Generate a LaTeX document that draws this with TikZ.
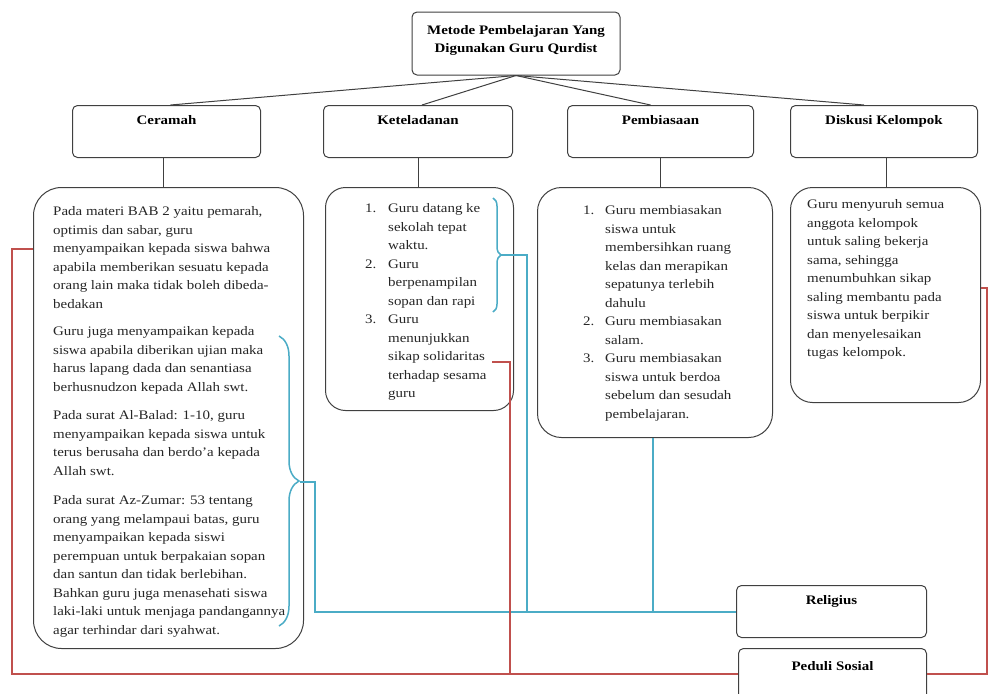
\documentclass[tikz,border=0pt]{standalone}
\usepackage{fontspec}
\setmainfont[FakeStretch=1.15]{Liberation Serif}
\usetikzlibrary{decorations.pathreplacing}
\definecolor{boxline}{HTML}{404040}
\definecolor{relblue}{HTML}{4BACC6}
\definecolor{socred}{HTML}{C0504D}
\begin{document}
\begin{tikzpicture}[x=1pt,y=-1pt,
  headbox/.style={draw=boxline, line width=1pt, rounded corners=5pt, fill=white,
    font=\fontsize{13}{18.5}\selectfont\bfseries, anchor=north west, inner xsep=0pt,
    inner ysep=9pt, text height=10pt, text depth=24pt, align=center},
  contentbox/.style={draw=boxline, line width=1pt, fill=white, anchor=north west, inner sep=0pt},
  bodytext/.style={font=\fontsize{13}{18.5}\selectfont, anchor=north west, inner sep=0pt, align=left, text=black!85},
  treeline/.style={draw=boxline, line width=1pt},
  blueline/.style={draw=relblue, line width=1.5pt},
  redline/.style={draw=socred, line width=1.5pt},
  bluebrace/.style={draw=relblue, line width=1.5pt, decorate, decoration={brace, amplitude=#1}}
]
\useasboundingbox (0,0) rectangle (989,694);

% ---- coordinates for the coloured connectors
\coordinate (cbtop) at (279,336);
\coordinate (cbbot) at (279,626);
\coordinate (cbtip) at (300,482);
\coordinate (cbturn) at (315,482);
\coordinate (cbdown) at (315,612);
\coordinate (kbtop) at (493,198);
\coordinate (kbbot) at (493,312);
\coordinate (kbtip) at (501,255);
\coordinate (kbturn) at (527,255);
\coordinate (kbdown) at (527,612);
\coordinate (krstart) at (492,362);
\coordinate (krturn) at (510,362);
\coordinate (krdown) at (510,674);
\coordinate (lftop) at (12,249);
\coordinate (lfbot) at (12,674);
\coordinate (rttop) at (987,288);
\coordinate (rtbot) at (987,674);
\coordinate (pbdown) at (653,612);

% ---- boxes
\node[draw=boxline, line width=1pt, rounded corners=5pt, fill=white, minimum width=208pt, minimum height=63pt,
  font=\fontsize{13}{18.5}\selectfont\bfseries, align=center, inner sep=0pt] (top) at (516,43.5)
  {Metode Pembelajaran Yang\\[-1pt]Digunakan Guru Qurdist\\[-9pt]};

\node[headbox, minimum width=188pt] (cer) at (72,105) {Ceramah};
\node[headbox, minimum width=189pt] (ket) at (323,105) {Keteladanan};
\node[headbox, minimum width=186pt] (pem) at (567,105) {Pembiasaan};
\node[headbox, minimum width=187pt] (dis) at (790,105) {Diskusi Kelompok};

\draw[treeline] (top.south) -- ([xshift=4pt]cer.north);
\draw[treeline] (top.south) -- ([xshift=4pt]ket.north);
\draw[treeline] (top.south) -- ([xshift=-10pt]pem.north);
\draw[treeline] (top.south) -- ([xshift=-20pt]dis.north);

\node[contentbox, minimum width=270pt, minimum height=461pt, rounded corners=28pt] (cerbox) at (33,187) {};
\node[contentbox, minimum width=188pt, minimum height=223pt, rounded corners=20pt] (ketbox) at (325,187) {};
\node[contentbox, minimum width=235pt, minimum height=250pt, rounded corners=24pt] (pembox) at (537,187) {};
\node[contentbox, minimum width=190pt, minimum height=215pt, rounded corners=22pt] (disbox) at (790,187) {};

\draw[treeline] ([xshift=-3pt]cer.south) -- ([xshift=-3pt]cer.south |- cerbox.north);
\draw[treeline] (ket.south) -- (ket.south |- ketbox.north);
\draw[treeline] (pem.south) -- (pem.south |- pembox.north);
\draw[treeline] ([xshift=2pt]dis.south) -- ([xshift=2pt]dis.south |- disbox.north);

% ---- texts in the Ceramah box
\node[bodytext] (cert1) at (53,206.5) {Pada materi BAB 2 yaitu pemarah,\\
optimis dan sabar, guru\\
menyampaikan kepada siswa bahwa\\
apabila memberikan sesuatu kepada\\
orang lain maka tidak boleh dibeda-\\
bedakan};
\node[bodytext] (cert2) at (53,326.5) {Guru juga menyampaikan kepada\\
siswa apabila diberikan ujian maka\\
harus lapang dada dan senantiasa\\
berhusnudzon kepada Allah swt.};
\node[bodytext] (cert3) at (53,410.5) {Pada surat Al-Balad: 1-10, guru\\
menyampaikan kepada siswa untuk\\
terus berusaha dan berdo'a kepada\\
Allah swt.};
\node[bodytext] (cert4) at (53,495.5) {Pada surat Az-Zumar: 53 tentang\\
orang yang melampaui batas, guru\\
menyampaikan kepada siswi\\
perempuan untuk berpakaian sopan\\
dan santun dan tidak berlebihan.\\
Bahkan guru juga menasehati siswa\\
laki-laki untuk menjaga pandangannya\\
agar terhindar dari syahwat.};

% ---- Keteladanan list
\node[bodytext] (kett) at (365,203.5) {\makebox[23pt][l]{1.}Guru datang ke\\
\hspace*{23pt}sekolah tepat\\
\hspace*{23pt}waktu.\\
\makebox[23pt][l]{2.}Guru\\
\hspace*{23pt}berpenampilan\\
\hspace*{23pt}sopan dan rapi\\
\makebox[23pt][l]{3.}Guru\\
\hspace*{23pt}menunjukkan\\
\hspace*{23pt}sikap solidaritas\\
\hspace*{23pt}terhadap sesama\\
\hspace*{23pt}guru};

% ---- Pembiasaan list
\node[bodytext] (pemt) at (583,205.5) {\makebox[22pt][l]{1.}Guru membiasakan\\
\hspace*{22pt}siswa untuk\\
\hspace*{22pt}membersihkan ruang\\
\hspace*{22pt}kelas dan merapikan\\
\hspace*{22pt}sepatunya terlebih\\
\hspace*{22pt}dahulu\\
\makebox[22pt][l]{2.}Guru membiasakan\\
\hspace*{22pt}salam.\\
\makebox[22pt][l]{3.}Guru membiasakan\\
\hspace*{22pt}siswa untuk berdoa\\
\hspace*{22pt}sebelum dan sesudah\\
\hspace*{22pt}pembelajaran.};

% ---- Diskusi text
\node[bodytext] (dist) at (807,199.5) {Guru menyuruh semua\\
anggota kelompok\\
untuk saling bekerja\\
sama, sehingga\\
menumbuhkan sikap\\
saling membantu pada\\
siswa untuk berpikir\\
dan menyelesaikan\\
tugas kelompok.};

% ---- bottom boxes
\node[headbox, minimum width=190pt, text height=10pt, text depth=24pt, inner ysep=9pt] (rel) at (736,585) {Religius};
\node[headbox, minimum width=188pt, text height=10pt, text depth=18pt, inner ysep=12pt] (ped) at (738,648) {Peduli Sosial};

% ---- coloured connectors
\draw[bluebrace=20pt] (cbtop) -- (cbbot);
\draw[blueline] (cbtip) -- (cbturn) -- (cbdown) -- (rel.west |- cbdown);
\draw[bluebrace=8pt] (kbtop) -- (kbbot);
\draw[blueline] (kbtip) -- (kbturn) -- (kbdown);
\draw[blueline] (pembox.south -| pbdown) -- (pbdown);
\draw[redline] (cerbox.west |- lftop) -- (lftop) -- (lfbot) -- (ped.west |- lfbot);
\draw[redline] (krstart) -- (krturn) -- (krdown);
\draw[redline] (disbox.east |- rttop) -- (rttop) -- (rtbot) -- (ped.east |- rtbot);
\end{tikzpicture}
\end{document}
